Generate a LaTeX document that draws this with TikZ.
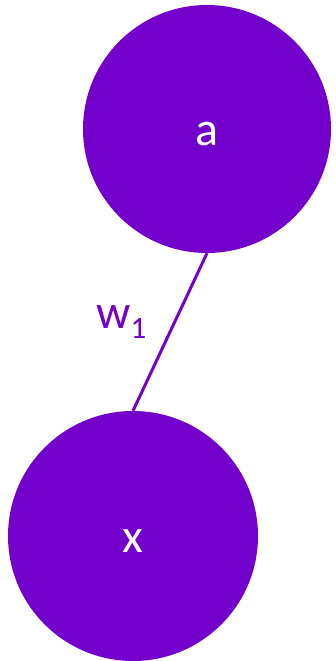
\documentclass[tikz,border=0pt]{standalone}
\usepackage{fontspec}
\setmainfont{Carlito}
\definecolor{nodepurple}{RGB}{116,0,204}
\tikzset{
  unit/.style={circle, fill=nodepurple, text=white, minimum size=#1, inner sep=0pt,
    font=\fontsize{48}{48}\selectfont, text height=33pt, text depth=0pt},
  weight/.style={text=nodepurple, font=\fontsize{48}{48}\selectfont, inner sep=0pt}
}
\begin{document}
\begin{tikzpicture}
  \useasboundingbox (0pt,0pt) rectangle (336pt,-661pt);

  % the two units
  \node[unit=248pt] (a) at (207pt,-129pt) {a};
  \node[unit=250pt] (x) at (133pt,-536pt) {x};

  % connection and its weight
  \draw[nodepurple, line width=3pt] (a.south) -- (x.north);
  \node[weight, anchor=base west] (w1) at (96pt,-328pt)
    {w\raisebox{-10pt}{\fontsize{31}{31}\selectfont 1}};
\end{tikzpicture}
\end{document}
